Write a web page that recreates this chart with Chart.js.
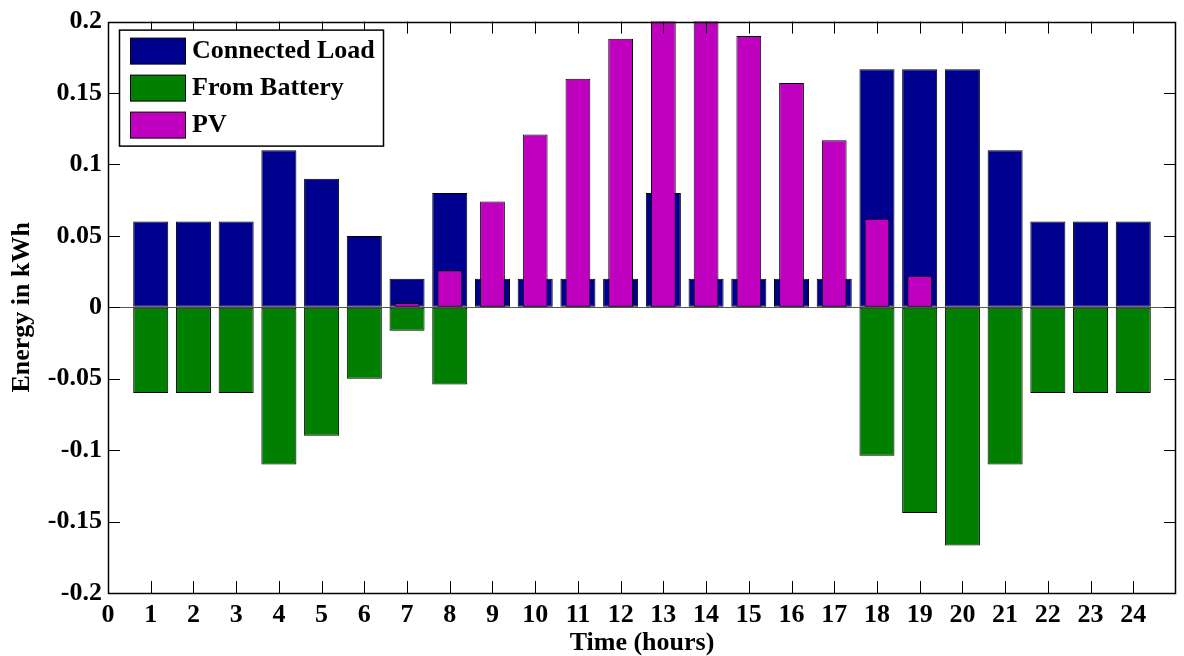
<!DOCTYPE html>
<html><head><meta charset="utf-8">
<script src="https://cdn.jsdelivr.net/npm/chart.js@4/dist/chart.umd.min.js"></script>
<style>html,body{margin:0;padding:0;background:#fff}#wrap{width:1184px;height:656px}</style>
</head><body><div id="wrap"><canvas id="c" width="1184" height="656"></canvas></div>
<script>
const hours = [1,2,3,4,5,6,7,8,9,10,11,12,13,14,15,16,17,18,19,20,21,22,23,24];
const connectedLoad = [0.06,0.06,0.06,0.11,0.09,0.05,0.02,0.08,0.02,0.02,0.02,0.02,0.08,0.02,0.02,0.02,0.02,0.1667,0.1667,0.1667,0.11,0.06,0.06,0.06];
const fromBattery = [-0.06,-0.06,-0.06,-0.11,-0.09,-0.05,-0.0165,-0.054,0,0,0,0,0,0,0,0,0,-0.104,-0.144,-0.1667,-0.11,-0.06,-0.06,-0.06];
const pv = [0,0,0,0,0,0,0.003,0.026,0.074,0.121,0.16,0.188,0.205,0.205,0.19,0.157,0.117,0.062,0.022,0,0,0,0,0];
const xTickValues = [0,1,2,3,4,5,6,7,8,9,10,11,12,13,14,15,16,17,18,19,20,21,22,23,24];
const xTickLabels = ['0','1','2','3','4','5','6','7','8','9','10','11','12','13','14','15','16','17','18','19','20','21','22','23','24'];
const yTickValues = [-0.2,-0.15,-0.1,-0.05,0,0.05,0.1,0.15,0.2];
const yTickLabels = ['-0.2','-0.15','-0.1','-0.05','0','0.05','0.1','0.15','0.2'];
const seriesLabels = ['Connected Load','From Battery','PV'];
const seriesColors = ['#00008F','#007F00','#BF00BF'];

const FONT = 'Liberation Serif, "Times New Roman", serif';

const boxPlugin = {
  id: 'boxPlugin',
  afterDraw(chart) {
    const ctx = chart.ctx, a = chart.chartArea;
    const xs = chart.scales.x, ys = chart.scales.y;
    ctx.save();
    ctx.strokeStyle = '#000';
    ctx.lineWidth = 1;
    ctx.beginPath();
    xTickValues.forEach(v => {
      if (v <= 0 || v >= 25) return;
      const px = Math.round(xs.getPixelForValue(v)) + 0.5;
      ctx.moveTo(px, a.bottom); ctx.lineTo(px, a.bottom - 12);
      ctx.moveTo(px, a.top); ctx.lineTo(px, a.top + 12);
    });
    yTickValues.forEach(v => {
      if (v <= -0.2 || v >= 0.2) return;
      const py = Math.round(ys.getPixelForValue(v)) + 0.5;
      ctx.moveTo(a.left, py); ctx.lineTo(a.left + 12, py);
      ctx.moveTo(a.right, py); ctx.lineTo(a.right - 12, py);
    });
    ctx.stroke();
    ctx.lineWidth = 1.5;
    ctx.strokeRect(Math.round(a.left) + 0.5, Math.round(a.top) + 0.5, Math.round(a.right - a.left) - 1, Math.round(a.bottom - a.top));
    // legend
    const lx = a.left + 11, ly = a.top + 8, lw = 264, lh = 116;
    ctx.fillStyle = '#fff';
    ctx.fillRect(lx + 0.5, ly + 0.5, lw, lh);
    ctx.strokeRect(lx + 0.5, ly + 0.5, lw, lh);
    ctx.lineWidth = 1;
    ctx.font = 'bold 26px ' + FONT;
    ctx.textBaseline = 'middle';
    chart.data.datasets.forEach((ds, i) => {
      const sy = ly + 8 + i * 37;
      ctx.fillStyle = ds.backgroundColor;
      ctx.fillRect(lx + 11.5, sy + 0.5, 55, 26);
      ctx.strokeStyle = '#000';
      ctx.strokeRect(lx + 11.5, sy + 0.5, 55, 26);
      ctx.fillStyle = '#000';
      ctx.fillText(ds.label, lx + 73, sy + 14);
    });
    ctx.restore();
  }
};

const mk = (label, vals, color, bp, order) => ({
  label: label,
  data: hours.map((h, i) => ({x: h, y: vals[i]})),
  backgroundColor: color,
  borderColor: '#000',
  borderWidth: 1,
  borderSkipped: false,
  barPercentage: bp,
  categoryPercentage: 1,
  grouped: false,
  order: order
});

new Chart(document.getElementById('c'), {
  type: 'bar',
  data: {
    datasets: [
      mk(seriesLabels[0], connectedLoad, seriesColors[0], 0.82, 3),
      mk(seriesLabels[1], fromBattery, seriesColors[1], 0.82, 2),
      mk(seriesLabels[2], pv, seriesColors[2], 0.58, 1)
    ]
  },
  options: {
    responsive: false,
    animation: false,
    devicePixelRatio: 1,
    layout: { padding: { top: 21, right: 8, left: 0, bottom: 0 } },
    plugins: { legend: { display: false }, tooltip: { enabled: false } },
    scales: {
      x: {
        type: 'linear', min: 0, max: 25, offset: false,
        afterBuildTicks: s => { s.ticks = xTickValues.map(v => ({value: v})); },
        afterFit: s => { s.height = 63; },
        grid: { display: false, drawTicks: false, offset: false },
        border: { display: false },
        ticks: {
          padding: 7, color: '#000', maxRotation: 0, autoSkip: false,
          font: { family: FONT, size: 26, weight: 'bold' },
          callback: (v, i) => xTickLabels[i]
        },
        title: { display: true, text: 'Time (hours)', color: '#000', padding: {top: 0, bottom: 0},
          font: { family: FONT, size: 26, weight: 'bold', lineHeight: 1 } }
      },
      y: {
        type: 'linear', min: -0.2, max: 0.2,
        afterBuildTicks: s => { s.ticks = yTickValues.map(v => ({value: v})); },
        afterFit: s => { s.width = 108; },
        grid: { drawTicks: false, color: c => (c.tick && c.tick.value === 0) ? '#555' : 'rgba(0,0,0,0)' },
        border: { display: false },
        ticks: {
          padding: 6, color: '#000', autoSkip: false,
          font: { family: FONT, size: 26, weight: 'bold' },
          callback: (v, i) => yTickLabels[i]
        },
        title: { display: true, text: 'Energy in kWh', color: '#000', padding: {top: 9, bottom: 0},
          font: { family: FONT, size: 26, weight: 'bold', lineHeight: 1 } }
      }
    }
  },
  plugins: [boxPlugin]
});
</script>
</body></html>
